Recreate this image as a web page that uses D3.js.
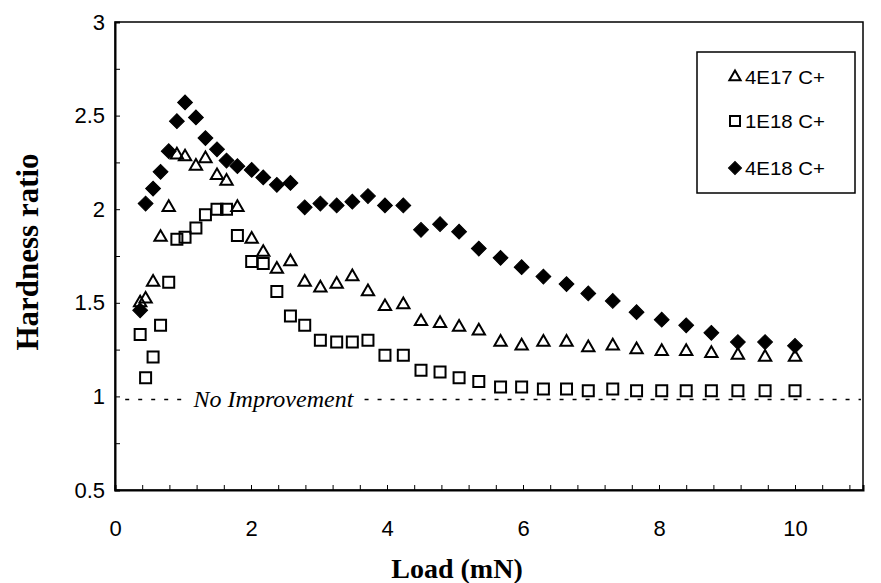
<!DOCTYPE html>
<html>
<head>
<meta charset="utf-8">
<script src="https://cdn.jsdelivr.net/npm/d3@7"></script>
<style>
  html, body { margin: 0; padding: 0; background: #fff; }
  svg { display: block; }
</style>
</head>
<body>
<svg id="chart" width="881" height="583"></svg>
<script>
// ---- data ----
const loads = [0.37,0.45,0.56,0.67,0.79,0.91,1.03,1.19,1.33,1.50,1.64,1.80,2.01,2.18,2.38,2.58,2.79,3.02,3.26,3.49,3.72,3.97,4.24,4.50,4.78,5.06,5.35,5.67,5.98,6.30,6.64,6.96,7.32,7.67,8.04,8.40,8.77,9.16,9.56,10.0];
const ratio4E17 = [1.50,1.52,1.61,1.85,2.01,2.29,2.28,2.23,2.27,2.18,2.15,2.01,1.84,1.77,1.68,1.72,1.61,1.58,1.60,1.64,1.56,1.48,1.49,1.40,1.39,1.37,1.35,1.29,1.27,1.29,1.29,1.26,1.27,1.25,1.24,1.24,1.23,1.22,1.21,1.21];
const ratio1E18 = [1.33,1.10,1.21,1.38,1.61,1.84,1.85,1.90,1.97,2.00,2.00,1.86,1.72,1.71,1.56,1.43,1.38,1.30,1.29,1.29,1.30,1.22,1.22,1.14,1.13,1.10,1.08,1.05,1.05,1.04,1.04,1.03,1.04,1.03,1.03,1.03,1.03,1.03,1.03,1.03];
const ratio4E18 = [1.46,2.03,2.11,2.20,2.31,2.47,2.57,2.49,2.38,2.32,2.26,2.23,2.21,2.17,2.13,2.14,2.01,2.03,2.02,2.04,2.07,2.02,2.02,1.89,1.92,1.88,1.79,1.74,1.69,1.64,1.60,1.55,1.51,1.45,1.41,1.38,1.34,1.29,1.29,1.27];
const seriesNames = ["4E17 C+", "1E18 C+", "4E18 C+"];
const xTickLabels = [0, 2, 4, 6, 8, 10];
const yTickLabels = [0.5, 1, 1.5, 2, 2.5, 3];
const baselineValue = 1;
const baselineLabel = "No Improvement";

// ---- layout ----
const svg = d3.select("#chart");
const x = d3.scaleLinear().domain([0, 11]).range([115, 863]);
const y = d3.scaleLinear().domain([0.5, 3]).range([490, 22]);

const series = [
  { name: seriesNames[0], values: ratio4E17, type: "triangle" },
  { name: seriesNames[1], values: ratio1E18, type: "square" },
  { name: seriesNames[2], values: ratio4E18, type: "diamond" }
];

function symbolPath(type) {
  if (type === "triangle") return d3.symbol(d3.symbolTriangle, 66)();
  if (type === "square") return d3.symbol(d3.symbolSquare, 121)();
  return d3.symbol(d3.symbolSquare, 110)();
}
function styleMarker(sel, type) {
  if (type === "diamond") {
    sel.attr("fill", "#000").attr("stroke", "#000").attr("stroke-width", 1);
  } else {
    sel.attr("fill", "none").attr("stroke", "#000").attr("stroke-width", 2);
  }
}

// frame (top + right)
svg.append("rect")
  .attr("x", x(0)).attr("y", y(3))
  .attr("width", x(11) - x(0)).attr("height", y(0.5) - y(3))
  .attr("fill", "none").attr("stroke", "#000").attr("stroke-width", 1.5);

// minor inward ticks
const xMinor = d3.range(0, 11.01, 0.4);
svg.append("g").attr("transform", `translate(0,${y(0.5)})`)
  .call(d3.axisBottom(x).tickValues(xMinor).tickSize(-5).tickFormat(""))
  .call(g => g.select(".domain").attr("stroke-width", 2))
  .call(g => g.selectAll(".tick line").attr("stroke-width", 1));
const yMinor = d3.range(0.5, 3.01, 0.25);
svg.append("g").attr("transform", `translate(${x(0)},0)`)
  .call(d3.axisLeft(y).tickValues(yMinor).tickSize(-5).tickFormat(""))
  .call(g => g.select(".domain").attr("stroke-width", 2))
  .call(g => g.selectAll(".tick line").attr("stroke-width", 1));

// labelled axes
svg.append("g").attr("transform", `translate(0,${y(0.5)})`)
  .call(d3.axisBottom(x).tickValues(xTickLabels).tickSize(0).tickPadding(30).tickFormat(d3.format("d")))
  .call(g => g.select(".domain").remove())
  .call(g => g.selectAll("text").attr("font-family", "Liberation Sans, Arial, sans-serif").attr("font-size", 22).attr("fill", "#000"));
svg.append("g").attr("transform", `translate(${x(0)},0)`)
  .call(d3.axisLeft(y).tickValues(yTickLabels).tickSize(0).tickPadding(10).tickFormat(d => String(d)))
  .call(g => g.select(".domain").remove())
  .call(g => g.selectAll("text").attr("font-family", "Liberation Sans, Arial, sans-serif").attr("font-size", 22).attr("fill", "#000"));

// axis titles
svg.append("text")
  .attr("x", 457).attr("y", 578)
  .attr("text-anchor", "middle")
  .attr("font-family", "Liberation Serif, Times New Roman, serif")
  .attr("font-weight", "bold").attr("font-size", 28)
  .text("Load (mN)");
svg.append("text")
  .attr("transform", `translate(38,252) rotate(-90)`)
  .attr("text-anchor", "middle")
  .attr("font-family", "Liberation Serif, Times New Roman, serif")
  .attr("font-weight", "bold").attr("font-size", 31)
  .text("Hardness ratio");

// baseline "No Improvement"
const dash = "4,9";
svg.append("line")
  .attr("x1", x(0.15)).attr("x2", x(1.0))
  .attr("y1", y(baselineValue) + 3).attr("y2", y(baselineValue) + 3)
  .attr("stroke", "#000").attr("stroke-width", 1.5).attr("stroke-dasharray", dash);
svg.append("line")
  .attr("x1", x(3.67)).attr("x2", x(10.97))
  .attr("y1", y(baselineValue) + 3).attr("y2", y(baselineValue) + 3)
  .attr("stroke", "#000").attr("stroke-width", 1.5).attr("stroke-dasharray", dash);
svg.append("text")
  .attr("x", x(2.33)).attr("y", y(baselineValue) + 11)
  .attr("text-anchor", "middle")
  .attr("font-family", "Liberation Serif, Times New Roman, serif")
  .attr("font-style", "italic").attr("font-size", 24)
  .text(baselineLabel);

// markers
series.forEach(s => {
  const g = svg.append("g");
  const pts = g.selectAll("path").data(s.values.map((v, i) => ({ x: loads[i], y: v })))
    .join("path")
    .attr("d", symbolPath(s.type))
    .attr("transform", d => `translate(${x(d.x)},${y(d.y)})` + (s.type === "diamond" ? " rotate(45)" : ""));
  styleMarker(pts, s.type);
});

// legend
const legend = svg.append("g");
legend.append("rect")
  .attr("x", 697).attr("y", 52).attr("width", 158).attr("height", 141)
  .attr("fill", "#fff").attr("stroke", "#000").attr("stroke-width", 1.5);
const legendY = [77, 121, 168];
series.forEach((s, i) => {
  const row = legend.append("g").attr("transform", `translate(735,${legendY[i]})`);
  const m = row.append("path")
    .attr("d", s.type === "triangle" ? d3.symbol(d3.symbolTriangle, 55)() : s.type === "square" ? d3.symbol(d3.symbolSquare, 100)() : d3.symbol(d3.symbolSquare, 85)())
    .attr("transform", s.type === "diamond" ? "rotate(45)" : null);
  styleMarker(m, s.type);
  row.append("text").attr("x", 10).attr("y", 7)
    .attr("font-family", "Liberation Sans, Arial, sans-serif").attr("font-size", 19)
    .attr("textLength", 80).attr("lengthAdjust", "spacingAndGlyphs")
    .text(s.name);
});
</script>
</body>
</html>
